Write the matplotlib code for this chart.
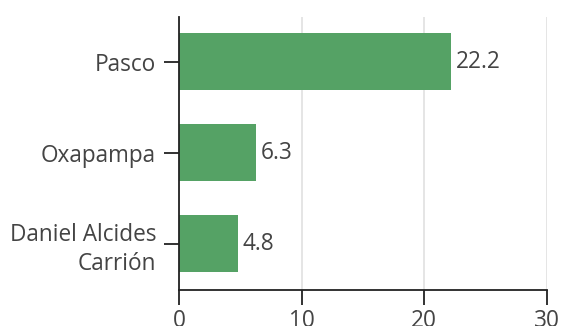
import matplotlib.pyplot as plt

plt.rcParams['font.family'] = ['Open Sans', 'DejaVu Sans']

provinces = ["Daniel Alcides\nCarrión", "Oxapampa", "Pasco"]
values = [4.8, 6.3, 22.2]
x_ticks = [0, 10, 20, 30]

text_color = "#444444"
bar_color = "#55a265"
fs = 16.3

fig = plt.figure(figsize=(5.62, 3.26), dpi=100)
ax = fig.add_axes([0.3185, 0.110, 0.6545, 0.838])

ax.barh(range(len(provinces)), values, height=0.63, color=bar_color, zorder=2)

# value labels just past the end of each bar
for i, v in enumerate(values):
    ax.text(v + 0.35, i, f"{v:.1f}", va="center", ha="left",
            fontsize=fs, color=text_color)

ax.set_yticks(range(len(provinces)))
ax.set_yticklabels(provinces, fontsize=fs, color=text_color, linespacing=1.3)
ax.set_xticks(x_ticks)
ax.set_xticklabels([str(t) for t in x_ticks], fontsize=fs, color=text_color)
ax.set_xlim(0, 30)
ax.set_ylim(-0.51, 2.49)

ax.grid(axis="x", color="#e0e0e0", linewidth=1.2, zorder=0)
ax.set_axisbelow(True)
for side in ["top", "right"]:
    ax.spines[side].set_visible(False)
for side in ["left", "bottom"]:
    ax.spines[side].set_linewidth(1.3)
    ax.spines[side].set_color("#222222")
ax.tick_params(axis="y", length=10.5, width=1.3, color="#222222", pad=6)
ax.tick_params(axis="x", length=10.5, width=1.3, color="#222222", pad=3)

fig.savefig("out.png", dpi=100)
